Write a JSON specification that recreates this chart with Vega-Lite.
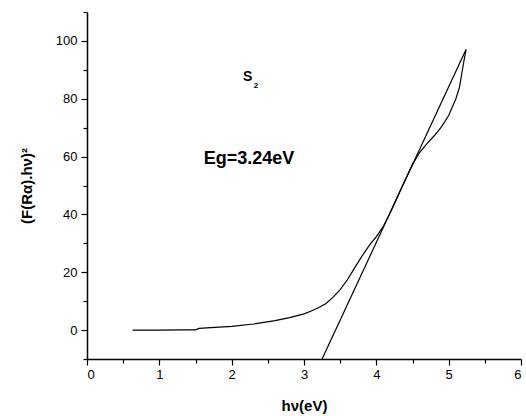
{
  "$schema": "https://vega.github.io/schema/vega-lite/v6.json",
  "autosize": {"type": "none"},
  "padding": {"left": 87, "top": 12, "right": 5, "bottom": 57},
  "width": 434,
  "height": 347,
  "background": "white",
  "config": {
    "view": {"stroke": null},
    "font": "Liberation Sans",
    "axis": {
      "grid": false,
      "domainColor": "black",
      "domainWidth": 1.5,
      "tickColor": "black",
      "tickWidth": 1.2,
      "labelColor": "black",
      "labelFont": "Liberation Sans",
      "labelFontSize": 13,
      "titleFont": "Liberation Sans",
      "titleFontSize": 15,
      "titleFontWeight": "bold",
      "titleColor": "black",
      "labelOverlap": false
    }
  },
  "resolve": {"axis": {"x": "independent", "y": "independent"}},
  "datasets": {
    "curve": [
      {"hv": 0.63, "y": 0.0},
      {"hv": 1.0, "y": 0.0},
      {"hv": 1.3, "y": 0.05},
      {"hv": 1.5, "y": 0.1},
      {"hv": 1.55, "y": 0.6},
      {"hv": 1.6, "y": 0.7},
      {"hv": 2.0, "y": 1.3},
      {"hv": 2.3, "y": 2.1},
      {"hv": 2.6, "y": 3.3},
      {"hv": 2.8, "y": 4.3},
      {"hv": 3.0, "y": 5.6},
      {"hv": 3.1, "y": 6.6},
      {"hv": 3.2, "y": 7.7},
      {"hv": 3.3, "y": 9.1},
      {"hv": 3.4, "y": 11.3},
      {"hv": 3.5, "y": 14.0},
      {"hv": 3.6, "y": 17.4},
      {"hv": 3.7, "y": 21.5},
      {"hv": 3.8, "y": 25.5},
      {"hv": 3.9, "y": 29.2},
      {"hv": 4.0, "y": 32.3},
      {"hv": 4.1, "y": 36.0},
      {"hv": 4.2, "y": 41.0},
      {"hv": 4.3, "y": 46.5},
      {"hv": 4.4, "y": 52.0},
      {"hv": 4.5, "y": 57.3},
      {"hv": 4.6, "y": 61.5},
      {"hv": 4.7, "y": 64.5},
      {"hv": 4.8, "y": 67.2},
      {"hv": 4.9, "y": 70.3},
      {"hv": 5.0, "y": 74.2},
      {"hv": 5.1, "y": 80.0},
      {"hv": 5.15, "y": 84.0},
      {"hv": 5.2, "y": 91.5},
      {"hv": 5.24, "y": 97.0}
    ],
    "fit": [
      {"hv": 3.25, "y": -10},
      {"hv": 5.24, "y": 97.0}
    ],
    "labels": [
      {"hv": 2.22, "y": 87.5, "text": "S", "size": 14},
      {"hv": 2.335, "y": 84.3, "text": "2", "size": 8},
      {"hv": 2.24, "y": 59, "text": "Eg=3.24eV", "size": 18}
    ]
  },
  "layer": [
    {
      "data": {"name": "curve"},
      "mark": {"type": "line", "color": "black", "strokeWidth": 1.2},
      "encoding": {
        "x": {
          "field": "hv", "type": "quantitative",
          "scale": {"domain": [0, 6], "nice": false},
          "axis": {
            "orient": "bottom",
            "title": "hν(eV)",
            "values": [0, 1, 2, 3, 4, 5, 6],
            "format": "d",
            "tickSize": 6,
            "labelPadding": 3,
            "titlePadding": 17
          }
        },
        "y": {
          "field": "y", "type": "quantitative",
          "scale": {"domain": [-10, 110], "nice": false},
          "axis": {
            "orient": "left",
            "title": "(F(Rα).hν)²",
            "values": [0, 20, 40, 60, 80, 100],
            "format": "d",
            "tickSize": 6,
            "labelPadding": 4,
            "titlePadding": 21
          }
        },
        "order": {"field": "hv"}
      }
    },
    {
      "data": {"name": "fit"},
      "mark": {"type": "line", "color": "black", "strokeWidth": 1.2},
      "encoding": {
        "x": {
          "field": "hv", "type": "quantitative",
          "scale": {"domain": [0, 6], "nice": false},
          "axis": {
            "orient": "bottom",
            "title": null,
            "values": [0.5, 1.5, 2.5, 3.5, 4.5, 5.5],
            "labels": false,
            "domain": false,
            "tickSize": 4
          }
        },
        "y": {
          "field": "y", "type": "quantitative",
          "scale": {"domain": [-10, 110], "nice": false},
          "axis": {
            "orient": "left",
            "title": null,
            "values": [-10, 10, 30, 50, 70, 90, 110],
            "labels": false,
            "domain": false,
            "tickSize": 4
          }
        }
      }
    },
    {
      "data": {"name": "labels"},
      "mark": {"type": "text", "fontWeight": "bold", "color": "black", "align": "center", "baseline": "middle", "font": "Liberation Sans"},
      "encoding": {
        "x": {"field": "hv", "type": "quantitative", "scale": {"domain": [0, 6], "nice": false}, "axis": null},
        "y": {"field": "y", "type": "quantitative", "scale": {"domain": [-10, 110], "nice": false}, "axis": null},
        "text": {"field": "text"},
        "size": {"field": "size", "type": "quantitative", "scale": null}
      }
    }
  ]
}
